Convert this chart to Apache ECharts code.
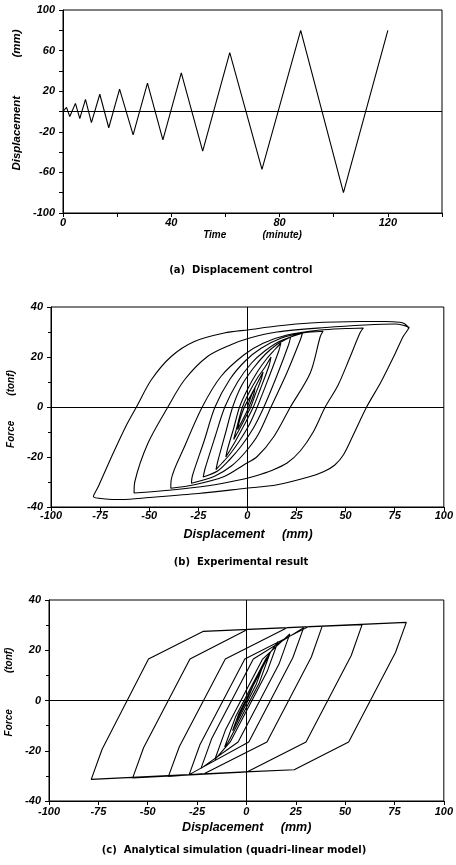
<!DOCTYPE html>
<html>
<head>
<meta charset="utf-8">
<script src="https://cdn.jsdelivr.net/npm/echarts@6/dist/echarts.min.js"></script>
<style>html,body{margin:0;padding:0;background:#fff;}#c{width:456px;height:865px;}</style>
</head>
<body>
<div id="c"></div>
<script>
// (a) displacement control history
var timeMin = [0, 1.3, 2.5, 4.6, 6.2, 8.3, 10.5, 13.6, 16.9, 20.9, 25.9, 31.2, 36.9, 43.7, 51.6, 61.6, 73.5, 87.8, 103.6, 120];
var dispMm  = [0, 4, -5, 8, -7, 12, -11, 17, -16, 22, -23, 28, -28, 38, -39, 58, -57, 80, -80, 80];

// (b) experimental branches [displacement mm, force tonf]
var expStart = [[0,0],[2,4.5],[4,8]];
var expU1 = [[4,8],[3.2,5],[0.8,0],[-2,-4.5],[-5,-9]];
var expR1 = [[-5,-9],[-4.2,-6],[-1.5,0],[2,5],[5,9.5],[8,14]];
var expU2 = [[8,14],[7,11],[4,5],[1.7,0],[-1.5,-5],[-4.5,-9.5],[-7,-13]];
var expR2 = [[-7,-13],[-6,-10],[-2.5,0],[1,6],[5,11.5],[9,16],[12,20]];
var expU3 = [[12,20],[11,16.5],[6.5,7],[3,0],[-1.5,-7],[-6,-13.5],[-9,-17.5],[-11,-20]];
var expR3 = [[-11,-20],[-10,-16.5],[-7,-8.5],[-4,0],[0,7],[5,14],[10,19.5],[14,23],[17,25.5]];
var expU4 = [[17,25.5],[16,22.5],[10.5,11],[5,0],[1,-7],[-4,-13.5],[-9,-19],[-13,-22.5],[-16,-25]];
var expR4 = [[-16,-25],[-15,-21.5],[-11,-10],[-7.5,0],[-3,8.5],[3,15.5],[9,21],[15,25],[22,28]];
var expU5 = [[22,28],[21,25],[15,12.5],[8.4,0],[3,-8.5],[-3,-15.5],[-9,-21],[-15,-25.5],[-22.5,-28]];
var expR5 = [[-22.5,-28],[-21.5,-24.5],[-16.5,-12],[-11.5,0],[-5,10],[2,17.5],[9,22.5],[17,26.5],[28,29.5]];
var expU6 = [[28,29.5],[27,27],[20,13.5],[12,0],[5.5,-11],[-1,-18],[-8,-23.5],[-17,-27.8],[-28.5,-30.5]];
var expR6 = [[-28.5,-30.5],[-28,-27.5],[-22,-13.5],[-16.5,0],[-9,11],[-1,18.5],[7,23.5],[17,27.5],[28,29.6],[38.5,30.3]];
var expU7 = [[38.5,30.3],[37.1,28.2],[32,13.6],[21.9,0],[13.5,-11.8],[5,-19.8],[-1.7,-23.1],[-11.8,-27.8],[-27,-31.1],[-39,-32.5]];
var expR7 = [[-39,-32.5],[-38.8,-29.1],[-32,-15.8],[-23,0],[-13.5,12.2],[-1.7,20.9],[8,25.5],[20.2,28.8],[37,30.8],[50,31.4],[59,31.6]];
var expU8 = [[59,31.6],[57.3,29.6],[52,19.5],[46,8.5],[39.6,0],[33.5,-10],[27,-17.5],[20.2,-22.4],[12,-25.5],[4,-27.6],[-1.7,-28.8],[-20,-31.5],[-40,-33.3],[-57.7,-34.4]];
var expR8 = [[-57.7,-34.4],[-57.3,-29.8],[-50.6,-14.4],[-40.5,0],[-32,10.9],[-20.3,20.2],[-8.4,24.9],[0.8,27.5],[15,30],[40,31.8],[60,32.8],[75,33.2],[82,31.5]];
var expU9 = [[82,31.5],[79.3,28.2],[75,21],[68,10],[60.7,0],[54,-11],[49,-19],[44.5,-23.2],[39,-25.8],[32,-27.8],[15.2,-31.1],[-1.7,-32.6],[-25,-34.6],[-50,-36.2],[-64,-37],[-72,-36.8],[-78.4,-35.8]];
var expR9 = [[-78.4,-35.8],[-75.9,-31.8],[-69.1,-19.8],[-61.5,-7.1],[-56.5,0],[-48.9,10.9],[-38.8,20.2],[-27,26.2],[-11.8,29.6],[0.8,30.9],[15,32.4],[32,33.6],[57.3,34.2],[70,34.2],[77.5,33.9],[80,33.3],[82.5,31.5]];

// (c) analytical (quadri-linear) branches [displacement mm, force tonf]
var anaStart = [[0,0],[4,7]];
var anaU1 = [[4,7],[1,1.5],[-5,-8]];
var anaR1 = [[-5,-8],[-2,-2.5],[8,13]];
var anaU2 = [[8,13],[5,6.5],[-7,-12]];
var anaR2 = [[-7,-12],[-4,-5.5],[12,19]];
var anaU3 = [[12,19],[6.5,7],[-9.2,-16.5],[-11,-18.5]];
var anaR3 = [[-11,-18.5],[-5.5,-6.5],[9.8,16.5],[16,23.5]];
var anaU4 = [[16,23.5],[10.5,11.5],[-8.2,-16.5],[-16,-23.5]];
var anaR4 = [[-16,-23.5],[-10.5,-11.5],[8.2,16.5],[22,26.5]];
var anaU5 = [[22,26.5],[16.5,14.5],[-4.2,-16.5],[-23,-27]];
var anaR5 = [[-23,-27],[-17.5,-15],[3.5,16.5],[29,29]];
var anaU6 = [[29,29],[23.5,17],[1.2,-16.5],[-29,-29.5]];
var anaR6 = [[-29,-29.5],[-23.5,-17.5],[-0.8,16.5],[31.5,29.4],[38.4,29.6]];
var anaU7 = [[38.4,29.6],[32.9,17.3],[10.4,-16.5],[-21.2,-29.1],[-39.5,-30.2]];
var anaR7 = [[-39.5,-30.2],[-34,-18.4],[-10.7,16.5],[20.6,29],[58.6,30.2]];
var anaU8 = [[58.6,30.2],[53.1,17.9],[30.2,-16.5],[0.5,-28.4],[-57.6,-30.8]];
var anaR8 = [[-57.6,-30.8],[-52.1,-18.8],[-28.6,16.5],[0.5,28.3],[81,31.1]];
var anaU9 = [[81,31.1],[75.5,19.1],[51.8,-16.5],[24.2,-27.55],[-0.5,-28.4],[-78.6,-31.4]];
var anaR9 = [[-78.6,-31.4],[-73.1,-19.4],[-49.6,16.5],[-22,27.5],[1.4,28.3],[81,31.1]];

// tick settings
var timeTicks = [0, 40, 80, 120];
var dispTicksA = [-100, -60, -20, 20, 60, 100];

function join(list){ var out=[]; list.forEach(function(b,i){ b.forEach(function(p,j){ if(i>0&&j===0) return; out.push(p); }); }); return out; }
var expPath = join([expStart,expU1,expR1,expU2,expR2,expU3,expR3,expU4,expR4,expU5,expR5,expU6,expR6,expU7,expR7,expU8,expR8,expU9,expR9]);
var anaPath = join([anaStart,anaU1,anaR1,anaU2,anaR2,anaU3,anaR3,anaU4,anaR4,anaU5,anaR5,anaU6,anaR6,anaU7,anaR7,anaU8,anaR8,anaU9,anaR9]);
var histPath = timeMin.map(function(t,i){ return [t, dispMm[i]]; });

var FONT = 'Liberation Sans';
var lbl = {color:'#000', fontFamily:FONT, fontWeight:'bold', fontStyle:'italic', fontSize:11};
function axis(grid, min, max, interval, extra){
  var a = {type:'value', gridIndex:grid, min:min, max:max, interval:interval,
    axisLine:{show:true, onZero:false, lineStyle:{color:'#000', width:1}},
    axisTick:{show:true, inside:false, length:4, lineStyle:{color:'#000', width:1}},
    splitLine:{show:false},
    axisLabel:Object.assign({}, lbl)};
  if(extra){ for(var k in extra){ if(k==='axisLabel') Object.assign(a.axisLabel, extra[k]); else a[k]=extra[k]; } }
  return a;
}
var zeroLineStyle = {color:'#000', width:1, type:'solid'};
function mk(lines){ return {silent:true, symbol:['none','none'], label:{show:false}, lineStyle:zeroLineStyle, animation:false, data:lines}; }

var chart = echarts.init(document.getElementById('c'), null, {renderer:'canvas'});
chart.setOption({
  backgroundColor:'#fff',
  animation:false,
  grid:[
    {left:63, top:10, width:379, height:203, show:true, borderColor:'#000', borderWidth:1, backgroundColor:'transparent'},
    {left:51, top:307, width:395, height:200, show:true, borderColor:'#000', borderWidth:1, backgroundColor:'transparent'},
    {left:49, top:600, width:396, height:201, show:true, borderColor:'#000', borderWidth:1, backgroundColor:'transparent'}
  ],
  xAxis:[
    axis(0, 0, 140, 20, {axisLabel:{margin:4, formatter:function(v){ return timeTicks.indexOf(v)>=0 ? String(v) : ''; }}}),
    axis(1, -100, 100, 25, {axisLabel:{margin:3}}),
    axis(2, -100, 100, 25, {axisLabel:{margin:5}})
  ],
  yAxis:[
    axis(0, -100, 100, 20, {axisLabel:{margin:8, formatter:function(v){ return dispTicksA.indexOf(v)>=0 ? String(v) : ''; }}}),
    axis(1, -40, 40, 20, {minorTick:{show:true, splitNumber:2, length:3, lineStyle:{color:'#000'}}, axisLabel:{margin:8}}),
    axis(2, -40, 40, 20, {minorTick:{show:true, splitNumber:2, length:3, lineStyle:{color:'#000'}}, axisLabel:{margin:8}})
  ],
  series:[
    {type:'line', xAxisIndex:0, yAxisIndex:0, data:histPath, showSymbol:false, symbol:'none',
     lineStyle:{color:'#000', width:1.1}, markLine:mk([{yAxis:0}])},
    {type:'line', xAxisIndex:1, yAxisIndex:1, data:expPath, showSymbol:false, symbol:'none', smooth:0.3,
     lineStyle:{color:'#000', width:1.1}, markLine:mk([{yAxis:0},{xAxis:0}])},
    {type:'line', xAxisIndex:2, yAxisIndex:2, data:anaPath, showSymbol:false, symbol:'none',
     lineStyle:{color:'#000', width:1.1}, markLine:mk([{yAxis:0},{xAxis:0}])}
  ],
  graphic:[
    {type:'text', x:252.5, y:235, style:{text:'Time             (minute)', font:'italic bold 10px "Liberation Sans"', fill:'#000', align:'center', verticalAlign:'middle', textAlign:'center', textVerticalAlign:'middle'}},
    {type:'text', x:17, y:100, rotation:Math.PI/2, style:{text:'Displacement            (mm)', font:'italic bold 11.5px "Liberation Sans"', fill:'#000', align:'center', verticalAlign:'middle', textAlign:'center', textVerticalAlign:'middle'}},
    {type:'text', x:240.8, y:270, style:{text:'(a)  Displacement control', font:'bold 10px "DejaVu Sans"', fill:'#000', align:'center', verticalAlign:'middle', textAlign:'center', textVerticalAlign:'middle'}},
    {type:'text', x:248, y:535, style:{text:'Displacement     (mm)', font:'italic bold 12.5px "Liberation Sans"', fill:'#000', align:'center', verticalAlign:'middle', textAlign:'center', textVerticalAlign:'middle'}},
    {type:'text', x:11, y:409, rotation:Math.PI/2, style:{text:'Force         (tonf)', font:'italic bold 10px "Liberation Sans"', fill:'#000', align:'center', verticalAlign:'middle', textAlign:'center', textVerticalAlign:'middle'}},
    {type:'text', x:241, y:562, style:{text:'(b)  Experimental result', font:'bold 10px "DejaVu Sans"', fill:'#000', align:'center', verticalAlign:'middle', textAlign:'center', textVerticalAlign:'middle'}},
    {type:'text', x:246.7, y:828, style:{text:'Displacement     (mm)', font:'italic bold 12.5px "Liberation Sans"', fill:'#000', align:'center', verticalAlign:'middle', textAlign:'center', textVerticalAlign:'middle'}},
    {type:'text', x:9, y:692, rotation:Math.PI/2, style:{text:'Force             (tonf)', font:'italic bold 10px "Liberation Sans"', fill:'#000', align:'center', verticalAlign:'middle', textAlign:'center', textVerticalAlign:'middle'}},
    {type:'text', x:234, y:850, style:{text:'(c)  Analytical simulation (quadri-linear model)', font:'bold 10px "DejaVu Sans"', fill:'#000', align:'center', verticalAlign:'middle', textAlign:'center', textVerticalAlign:'middle'}}
  ]
});
</script>
</body>
</html>
